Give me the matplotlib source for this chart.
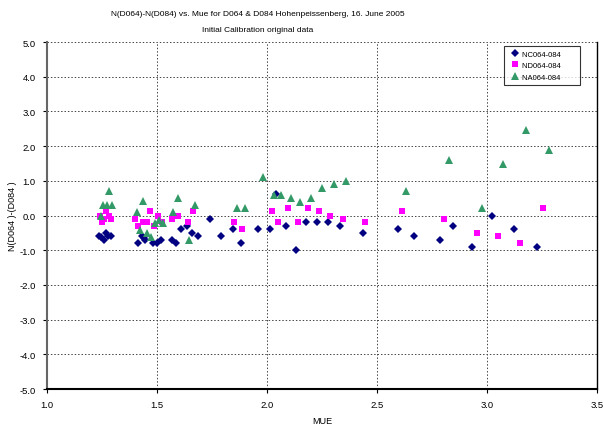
import matplotlib
matplotlib.use('Agg')
from matplotlib import pyplot as plt

plt.rcParams['font.family'] = ['Liberation Sans', 'DejaVu Sans']

# NC064-084 (navy diamonds)
nc_mue = [1.238, 1.247, 1.258, 1.268, 1.279, 1.289, 1.414, 1.430, 1.440, 1.447,
          1.483, 1.501, 1.520, 1.567, 1.586, 1.609, 1.636, 1.659, 1.685, 1.741,
          1.792, 1.847, 1.880, 1.961, 2.012, 2.041, 2.085, 2.133, 2.179, 2.226,
          2.277, 2.332, 2.435, 2.597, 2.670, 2.785, 2.847, 2.933, 3.024, 3.124,
          3.227]
nc_val = [-0.6, -0.63, -0.7, -0.5, -0.6, -0.6, -0.8, -0.6, -0.65, -0.7,
          -0.8, -0.8, -0.7, -0.7, -0.8, -0.4, -0.3, -0.5, -0.6, -0.1,
          -0.6, -0.4, -0.8, -0.4, -0.4, 0.62, -0.3, -1.0, -0.2, -0.2,
          -0.2, -0.3, -0.5, -0.4, -0.6, -0.7, -0.3, -0.9, 0.0, -0.4,
          -0.9]

# ND064-084 (magenta squares)
nd_mue = [1.241, 1.249, 1.261, 1.268, 1.282, 1.291, 1.400, 1.415, 1.435, 1.453,
          1.468, 1.488, 1.505, 1.524, 1.570, 1.594, 1.640, 1.662, 1.851, 1.888,
          2.021, 2.051, 2.095, 2.141, 2.186, 2.236, 2.288, 2.347, 2.447, 2.614,
          2.803, 2.956, 3.050, 3.149, 3.253]
nd_val = [0.0, -0.2, -0.1, 0.14, 0.0, -0.1, -0.1, -0.29, -0.2, -0.2,
          0.12, -0.29, 0.0, -0.2, -0.1, 0.0, -0.2, 0.12, -0.2, -0.39,
          0.12, -0.2, 0.22, -0.2, 0.22, 0.12, 0.0, -0.1, -0.2, 0.12,
          -0.1, -0.5, -0.6, -0.8, 0.22]

# NA064-084 (green triangles)
na_mue = [1.244, 1.253, 1.271, 1.283, 1.294, 1.408, 1.423, 1.438, 1.456, 1.471,
          1.491, 1.511, 1.529, 1.574, 1.597, 1.645, 1.671, 1.862, 1.900, 1.983,
          2.032, 2.062, 2.108, 2.152, 2.200, 2.250, 2.305, 2.361, 2.633, 2.827,
          2.977, 3.074, 3.176, 3.282]
na_val = [0.0, 0.31, 0.31, 0.7, 0.31, 0.11, -0.42, 0.41, -0.5, -0.61,
          -0.22, -0.12, -0.22, 0.11, 0.5, -0.7, 0.3, 0.21, 0.21, 1.1,
          0.6, 0.6, 0.5, 0.4, 0.5, 0.79, 0.9, 0.99, 0.7, 1.59,
          0.21, 1.48, 2.47, 1.89]

fig = plt.figure(figsize=(6.03, 4.27), dpi=100)
ax = fig.add_axes([47/603, 1-390/427, 550/603, 347/427])

ax.plot(nc_mue, nc_val, 'D', color='#000080', markersize=3.8, markeredgewidth=0, label='NC064-084', zorder=3)
ax.plot(nd_mue, nd_val, 's', color='#FF00FF', markersize=4.5, markeredgewidth=0, label='ND064-084', zorder=3)
ax.plot(na_mue, na_val, '^', color='#339966', markersize=5.2, markeredgewidth=0, label='NA064-084', zorder=3)

ax.set_xlim(1.0, 3.5)
ax.set_ylim(-5.0, 5.0)
ax.set_xticks([1.0, 1.5, 2.0, 2.5, 3.0, 3.5])
ax.set_yticks(range(-5, 6))
ax.xaxis.set_major_formatter(matplotlib.ticker.FormatStrFormatter('%.1f'))
ax.yaxis.set_major_formatter(matplotlib.ticker.FormatStrFormatter('%.1f'))
ax.tick_params(labelsize=6.8, length=3, width=0.8, pad=5)
ax.grid(True, linestyle=(0, (1.5, 2)), color='#444444', linewidth=0.7, zorder=0)
ax.spines['top'].set_visible(False)
ax.spines['left'].set_color('#666666')
ax.spines['left'].set_linewidth(1.5)
ax.spines['bottom'].set_linewidth(1.5)
ax.spines['right'].set_linewidth(1.0)

ax.set_xlabel('MUE', fontsize=6.5, labelpad=5)
ax.set_ylabel('N(D064 )-(D084 )', fontsize=6.5)
ax.yaxis.set_label_coords(-0.055, 0.5)

fig.text(258/603, 1-15/427, 'N(D064)-N(D084) vs. Mue for D064 & D084 Hohenpeissenberg, 16. June 2005',
         ha='center', va='center', fontsize=6.0)
fig.text(258/603, 1-31/427, 'Initial Calibration original data', ha='center', va='center', fontsize=6.0)

leg = ax.legend(loc='upper right', bbox_to_anchor=(580/603, 1-47/427), bbox_transform=fig.transFigure,
                fontsize=5.5, frameon=True, fancybox=False, borderaxespad=0, handlelength=1.8,
                handletextpad=0.0, labelspacing=0.55, borderpad=0.55)
for t in leg.get_texts():
    t.set_text(t.get_text() + '       ')
leg.get_frame().set_edgecolor('black')
leg.get_frame().set_linewidth(0.8)

fig.savefig('out.png', dpi=100)
